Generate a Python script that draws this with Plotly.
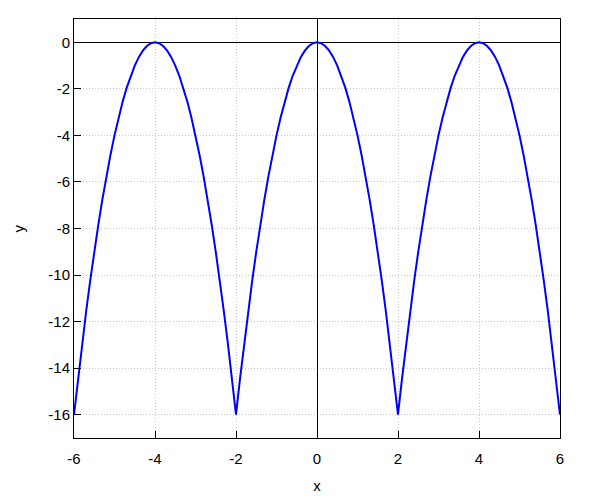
import plotly.graph_objects as go

# x samples from -6 to 6, step 0.1
x_vals = [round(-6 + 0.1 * i, 1) for i in range(121)]

# y values (peaks at -4, 0, 4; cusps at -6, -2, 2, 6)
y_vals = [
    -16.0, -14.44, -12.96, -11.56, -10.24, -9.0, -7.84, -6.76, -5.76, -4.84,
    -4.0, -3.24, -2.56, -1.96, -1.44, -1.0, -0.64, -0.36, -0.16, -0.04,
    0.0, -0.04, -0.16, -0.36, -0.64, -1.0, -1.44, -1.96, -2.56, -3.24,
    -4.0, -4.84, -5.76, -6.76, -7.84, -9.0, -10.24, -11.56, -12.96, -14.44,
    -16.0, -14.44, -12.96, -11.56, -10.24, -9.0, -7.84, -6.76, -5.76, -4.84,
    -4.0, -3.24, -2.56, -1.96, -1.44, -1.0, -0.64, -0.36, -0.16, -0.04,
    0.0, -0.04, -0.16, -0.36, -0.64, -1.0, -1.44, -1.96, -2.56, -3.24,
    -4.0, -4.84, -5.76, -6.76, -7.84, -9.0, -10.24, -11.56, -12.96, -14.44,
    -16.0, -14.44, -12.96, -11.56, -10.24, -9.0, -7.84, -6.76, -5.76, -4.84,
    -4.0, -3.24, -2.56, -1.96, -1.44, -1.0, -0.64, -0.36, -0.16, -0.04,
    0.0, -0.04, -0.16, -0.36, -0.64, -1.0, -1.44, -1.96, -2.56, -3.24,
    -4.0, -4.84, -5.76, -6.76, -7.84, -9.0, -10.24, -11.56, -12.96, -14.44,
    -16.0,
]

x_ticks = [-6, -4, -2, 0, 2, 4, 6]
y_ticks = [0, -2, -4, -6, -8, -10, -12, -14, -16]

fig = go.Figure()
fig.add_trace(go.Scatter(x=x_vals, y=y_vals, mode="lines",
                         line=dict(color="#0000ff", width=2), showlegend=False))

axis_common = dict(
    showline=True, linecolor="black", linewidth=1, mirror=True,
    ticks="inside", ticklen=7, tickcolor="black",
    showgrid=True, gridcolor="#c8c8c8", griddash="1px,2px", gridwidth=1,
    zeroline=True, zerolinecolor="black", zerolinewidth=1,
    tickfont=dict(size=15, color="black"),
)

fig.update_xaxes(range=[-6, 6], tickvals=x_ticks, ticktext=[str(v) for v in x_ticks],
                 ticklabelstandoff=7,
                 title=dict(text="x", font=dict(size=15, color="black"), standoff=14),
                 **axis_common)
fig.update_yaxes(range=[-17, 1], tickvals=y_ticks, ticktext=[str(v) for v in y_ticks],
                 automargin=False,
                 **axis_common)

fig.add_annotation(text="y", xref="paper", yref="paper", x=0, y=0.5,
                   xanchor="center", yanchor="middle", xshift=-56,
                   textangle=-90, showarrow=False,
                   font=dict(size=15, color="black"))

fig.update_layout(
    width=600, height=500,
    margin=dict(l=66, r=48, t=11, b=70),
    paper_bgcolor="white", plot_bgcolor="white",
    font=dict(family="Liberation Sans, Arial, sans-serif", size=15, color="black"),
)

fig.write_html("out.html")
